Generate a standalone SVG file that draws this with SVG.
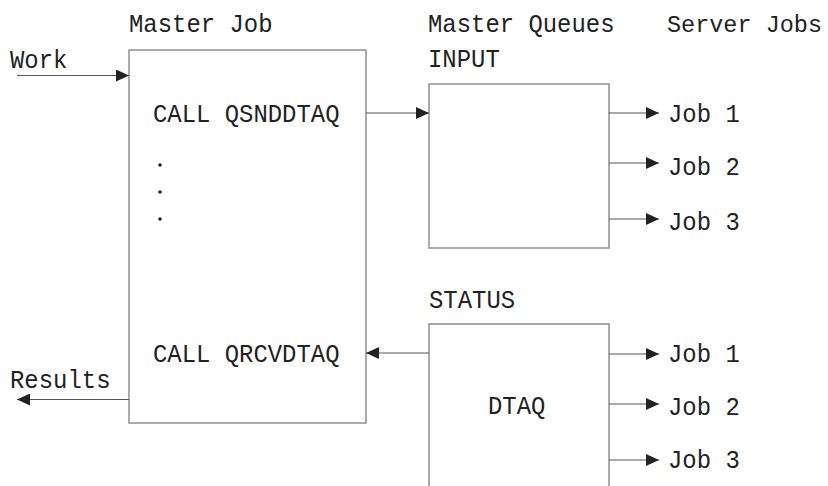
<svg xmlns="http://www.w3.org/2000/svg" width="828" height="486" viewBox="0 0 828 486">
<defs>
<style>
text{font-family:"Liberation Mono","DejaVu Sans Mono",monospace;font-size:26px;fill:#222}
.box{fill:#fff;stroke:#888;stroke-width:1.4}
.ln{fill:none;stroke:#555;stroke-width:1.2}
</style>
<marker id="ah" viewBox="0 0 13 12" refX="13" refY="6" markerWidth="13" markerHeight="12" markerUnits="userSpaceOnUse" orient="auto">
<path d="M0,0 L13,6 L0,12 Z" fill="#222"/>
</marker>
</defs>
<rect width="828" height="486" fill="#fff"/>
<g id="headers">
<text x="129" y="32" textLength="143.5" lengthAdjust="spacingAndGlyphs">Master Job</text>
<text x="428" y="32" textLength="186.5" lengthAdjust="spacingAndGlyphs">Master Queues</text>
<text x="667" y="32" style="font-size:24px" textLength="155" lengthAdjust="spacingAndGlyphs">Server Jobs</text>
</g>
<g id="work"><text x="10" y="68" textLength="57.4" lengthAdjust="spacingAndGlyphs">Work</text></g>
<g id="results"><text x="10" y="388" textLength="100.5" lengthAdjust="spacingAndGlyphs">Results</text></g>
<g id="master-job">
<rect class="box" x="129" y="50" width="237" height="373"/>
<text x="153" y="122" textLength="186.5" lengthAdjust="spacingAndGlyphs">CALL QSNDDTAQ</text>
<circle cx="160" cy="165" r="1.8" fill="#222"/>
<circle cx="160" cy="192" r="1.8" fill="#222"/>
<circle cx="160" cy="219" r="1.8" fill="#222"/>
<text x="153" y="362" textLength="186.5" lengthAdjust="spacingAndGlyphs">CALL QRCVDTAQ</text>
</g>
<g id="input-queue">
<text x="428" y="67" textLength="71.8" lengthAdjust="spacingAndGlyphs">INPUT</text>
<rect class="box" x="429" y="84" width="180" height="164"/>
</g>
<g id="status-queue">
<text x="429" y="308" textLength="86.1" lengthAdjust="spacingAndGlyphs">STATUS</text>
<path class="box" d="M429,490 V324 H609 V490"/>
<text x="488" y="414" textLength="57.4" lengthAdjust="spacingAndGlyphs">DTAQ</text>
</g>
<g id="server-jobs-input">
<text x="668" y="122" textLength="71.8" lengthAdjust="spacingAndGlyphs">Job 1</text>
<text x="668" y="175" textLength="71.8" lengthAdjust="spacingAndGlyphs">Job 2</text>
<text x="668" y="230" textLength="71.8" lengthAdjust="spacingAndGlyphs">Job 3</text>
</g>
<g id="server-jobs-status">
<text x="668" y="362" textLength="71.8" lengthAdjust="spacingAndGlyphs">Job 1</text>
<text x="668" y="415" textLength="71.8" lengthAdjust="spacingAndGlyphs">Job 2</text>
<text x="668" y="468" textLength="71.8" lengthAdjust="spacingAndGlyphs">Job 3</text>
</g>
<g id="connectors">
<line class="ln" x1="17" y1="75.5" x2="129" y2="75.5" marker-end="url(#ah)"/>
<line class="ln" x1="366" y1="113" x2="429" y2="113" marker-end="url(#ah)"/>
<line class="ln" x1="429" y1="353" x2="366" y2="353" marker-end="url(#ah)"/>
<line class="ln" x1="129" y1="399.5" x2="17" y2="399.5" marker-end="url(#ah)"/>
<line class="ln" x1="609" y1="113" x2="659" y2="113" marker-end="url(#ah)"/>
<line class="ln" x1="609" y1="163" x2="659" y2="163" marker-end="url(#ah)"/>
<line class="ln" x1="609" y1="219" x2="659" y2="219" marker-end="url(#ah)"/>
<line class="ln" x1="609" y1="354" x2="659" y2="354" marker-end="url(#ah)"/>
<line class="ln" x1="609" y1="404" x2="659" y2="404" marker-end="url(#ah)"/>
<line class="ln" x1="609" y1="460" x2="659" y2="460" marker-end="url(#ah)"/>
</g>
</svg>
